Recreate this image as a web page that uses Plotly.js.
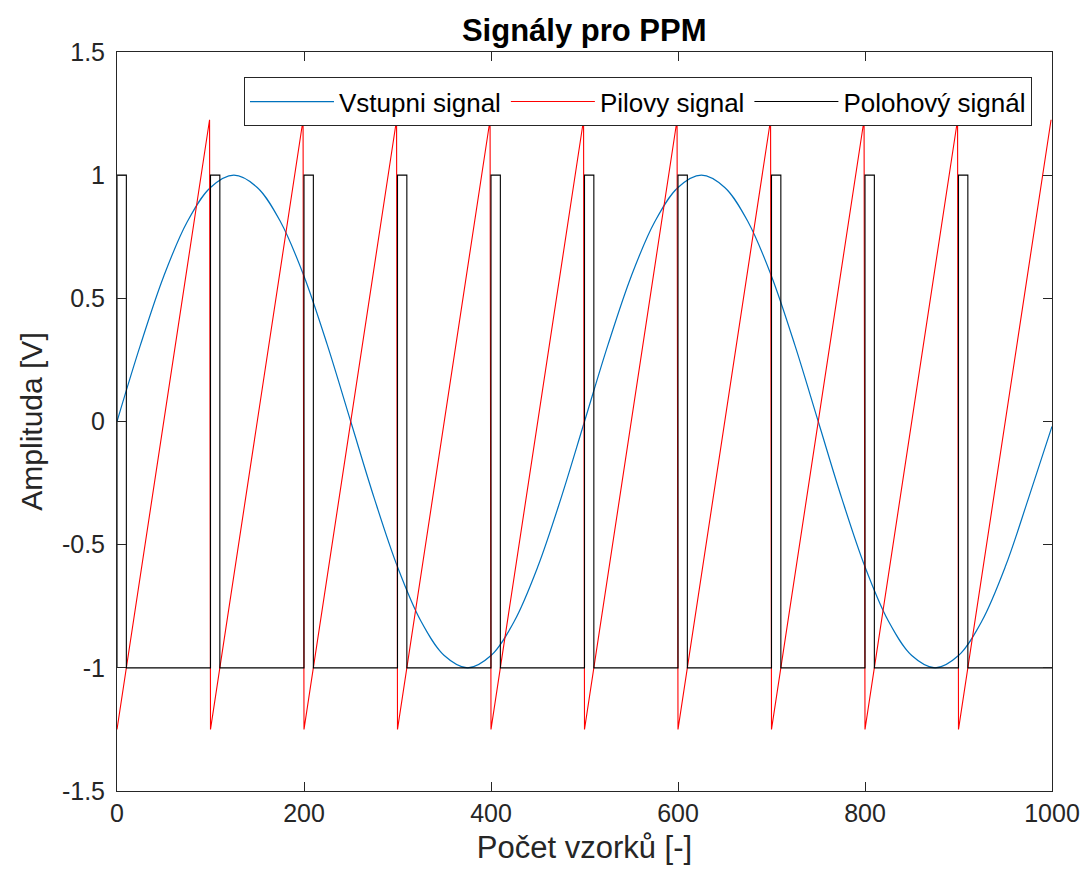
<!DOCTYPE html>
<html>
<head>
<meta charset="utf-8">
<script src="https://cdn.plot.ly/plotly-3.0.1.min.js"></script>
<style>html,body{margin:0;padding:0;background:#fff;}#chart{width:1092px;height:882px;}</style>
</head>
<body>
<div id="chart"></div>
<script>
// Input signal (read every 25 samples)
const sineX = [0,25,50,75,100,125,150,175,200,225,250,275,300,325,350,375,400,425,450,475,500,525,550,575,600,625,650,675,700,725,750,775,800,825,850,875,900,925,950,975,1000];
const sineY = [0,0.31,0.59,0.81,0.95,1.0,0.95,0.81,0.59,0.31,0,-0.31,-0.59,-0.81,-0.95,-1.0,-0.95,-0.81,-0.59,-0.31,0,0.31,0.59,0.81,0.95,1.0,0.95,0.81,0.59,0.31,0,-0.31,-0.59,-0.81,-0.95,-1.0,-0.95,-0.81,-0.59,-0.31,-0.02];
// Sawtooth: reset points, low and high value, ramp length
const sawReset = [0,100,200,300,400,500,600,700,800,900];
const sawLow = -1.25;
const sawHigh = 1.225;
const sawRamp = 99;
// Position pulses: start points, width, levels
const pulseStart = [0,100,200,300,400,500,600,700,800,900];
const pulseWidth = 10;
const pulseLow = -1;
const pulseHigh = 1;
const xEnd = 1000;
// Tick labels
const xTicks = [0,200,400,600,800,1000];
const yTicks = [-1.5,-1,-0.5,0,0.5,1,1.5];
const yTickText = ['-1.5','-1','-0.5','0','0.5','1','1.5'];

const sawX = [], sawY = [];
sawReset.forEach(r => { sawX.push(r, r + sawRamp); sawY.push(sawLow, sawHigh); });
const pX = [], pY = [];
pulseStart.forEach(s => { pX.push(s, s, s + pulseWidth, s + pulseWidth); pY.push(pulseLow, pulseHigh, pulseHigh, pulseLow); });
pX.push(xEnd); pY.push(pulseLow);

const FONT = 'Liberation Sans, Arial, Helvetica, sans-serif';

const traces = [
  {x: sineX, y: sineY, mode: 'lines', name: 'Vstupni signal', line: {color: '#0072BD', width: 1.2, shape: 'spline', smoothing: 1}},
  {x: sawX, y: sawY, mode: 'lines', name: 'Pilovy signal', line: {color: '#FF0000', width: 1.1}},
  {x: pX, y: pY, mode: 'lines', name: 'Polohový signál', line: {color: '#000000', width: 1.1}}
];

const axisCommon = {
  showgrid: false, zeroline: false, showline: true, mirror: 'ticks',
  linecolor: '#262626', linewidth: 1, ticks: 'inside', ticklen: 9, tickcolor: '#262626',
  tickfont: {family: FONT, size: 25, color: '#262626'}
};

const layout = {
  width: 1092, height: 882,
  margin: {l: 117, r: 40, t: 52, b: 91},
  paper_bgcolor: '#ffffff', plot_bgcolor: '#ffffff',
  title: {text: '<b>Signály pro PPM</b>', x: 0.535, xanchor: 'center', y: 0.966, yanchor: 'middle',
    font: {family: FONT, size: 31, color: '#000'}},
  xaxis: Object.assign({}, axisCommon, {range: [0, 1000], tickvals: xTicks,
    title: {text: 'Počet vzorků [-]', standoff: 10, font: {family: FONT, size: 31, color: '#262626'}}}),
  yaxis: Object.assign({}, axisCommon, {range: [-1.5, 1.5], tickvals: yTicks, ticktext: yTickText,
    ticklabelstandoff: 6,
    title: {text: 'Amplituda [V]', standoff: 10, font: {family: FONT, size: 30, color: '#262626'}}}),
  showlegend: true,
  legend: {orientation: 'h', x: 0.9786, xanchor: 'right', y: 0.966, yanchor: 'top',
    bgcolor: '#ffffff', bordercolor: '#262626', borderwidth: 1,
    font: {family: FONT, size: 26, color: '#000'},
    itemwidth: 84, tracegroupgap: 0}
};

Plotly.newPlot('chart', traces, layout, {displayModeBar: false, staticPlot: true});
</script>
</body>
</html>
